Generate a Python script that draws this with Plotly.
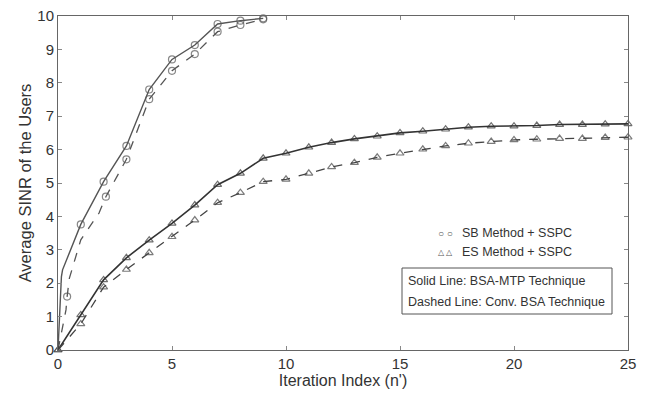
import plotly.graph_objects as go

# SB Method + SSPC, solid (BSA-MTP)
sb_solid_x = [0, 0.15, 0.2, 1, 2, 3, 4, 5, 6, 7, 8, 9]
sb_solid_y = [0, 2.2, 2.4, 3.76, 5.04, 6.11, 7.8, 8.7, 9.13, 9.76, 9.86, 9.93]
sb_solid_mk = [False, False, False, True, True, True, True, True, True, True, True, True]

# SB Method + SSPC, dashed (Conv. BSA)
sb_dash_x = [0, 0.35, 0.4, 0.5, 1, 1.8, 2.1, 3, 4, 5, 6, 7, 8, 9]
sb_dash_y = [0, 1.2, 1.6, 2.15, 3.3, 4.1, 4.59, 5.71, 7.51, 8.36, 8.86, 9.53, 9.73, 9.9]
sb_dash_mk = [False, False, True, False, False, False, True, True, True, True, True, True, True, True]

# ES Method + SSPC, solid (BSA-MTP)
es_solid_x = list(range(0, 26))
es_solid_y = [0, 1.05, 2.1, 2.76, 3.29, 3.79, 4.34, 4.95, 5.29, 5.74, 5.89, 6.07, 6.21,
              6.32, 6.40, 6.50, 6.55, 6.61, 6.67, 6.70, 6.70, 6.72, 6.75, 6.75, 6.76, 6.77]

# ES Method + SSPC, dashed (Conv. BSA)
es_dash_x = list(range(0, 26))
es_dash_y = [0, 0.78, 1.88, 2.41, 2.91, 3.39, 3.89, 4.41, 4.71, 5.04, 5.11, 5.29, 5.48,
             5.61, 5.77, 5.89, 6.01, 6.11, 6.19, 6.24, 6.29, 6.31, 6.33, 6.33, 6.36, 6.37]

x_ticks = [0, 5, 10, 15, 20, 25]
y_ticks = list(range(0, 11))

fig = go.Figure()

def add(x, y, dash, symbol, color, width, mk=None):
    flags = mk if mk is not None else [True] * len(x)
    sizes = [7 if m else 0 for m in flags]
    fig.add_trace(go.Scatter(
        x=x, y=y, mode="lines+markers",
        line=dict(color=color, width=width, dash=dash),
        marker=dict(symbol=symbol, size=sizes, color="rgba(255,255,255,0)",
                    line=dict(color=color, width=1.2)),
        showlegend=False, cliponaxis=False))

add(sb_solid_x, sb_solid_y, "solid", "circle", "#555555", 1.4, sb_solid_mk)
add(sb_dash_x, sb_dash_y, "dash", "circle", "#555555", 1.3, sb_dash_mk)
add(es_solid_x, es_solid_y, "solid", "triangle-up", "#333333", 1.6)
add(es_dash_x, es_dash_y, "dash", "triangle-up", "#444444", 1.3)

font = "Liberation Sans, Arial, sans-serif"

# plot-area pixel frame (page coordinates) used to place legend texts
PX0, PX1, PY0, PY1 = 58, 628, 16, 350
def px(x):
    return (x - PX0) / (PX1 - PX0)
def py(y):
    return (PY1 - y) / (PY1 - PY0)

ann = [
    dict(x=px(436), y=py(233), text="○ ○", font=dict(size=10, color="#555")),
    dict(x=px(460), y=py(233), text="SB Method + SSPC", font=dict(size=12.5, color="#333")),
    dict(x=px(436), y=py(252), text="△ △", font=dict(size=8, color="#555")),
    dict(x=px(460), y=py(252), text="ES Method + SSPC", font=dict(size=12.5, color="#333")),
    dict(x=px(406), y=py(281), text="Solid Line: BSA-MTP Technique", font=dict(size=12.5, color="#333")),
    dict(x=px(406), y=py(302), text="Dashed Line: Conv. BSA Technique", font=dict(size=12.5, color="#333")),
]
for a in ann:
    a.update(xref="paper", yref="paper", xanchor="left", yanchor="middle",
             showarrow=False)
    a["font"]["family"] = font

fig.update_layout(
    width=629, height=381,
    margin=dict(l=50, r=9, t=8, b=39),
    paper_bgcolor="white", plot_bgcolor="white",
    font=dict(family=font, color="#333"),
    annotations=ann,
    shapes=[dict(type="rect", xref="paper", yref="paper",
                 x0=px(402), x1=px(612), y0=py(314), y1=py(268),
                 line=dict(color="#555", width=1), fillcolor="white", layer="below")],
    xaxis=dict(range=[0, 25], tickvals=x_ticks, showgrid=False, zeroline=False,
               showline=True, linecolor="#666", linewidth=1, mirror="ticks",
               ticks="inside", ticklen=4, tickcolor="#888", automargin=False,
               ticklabeloverflow="allow",
               tickfont=dict(size=15), title=dict(text="Iteration Index (n')",
               font=dict(size=16), standoff=12)),
    yaxis=dict(range=[0, 10], tickvals=y_ticks, showgrid=False, zeroline=False,
               showline=True, linecolor="#666", linewidth=1, mirror="ticks",
               ticks="inside", ticklen=4, tickcolor="#888", automargin=False,
               ticklabeloverflow="allow",
               tickfont=dict(size=15), title=dict(text="Average SINR of the Users",
               font=dict(size=16.5), standoff=1)),
)

fig.write_html("out.html")
